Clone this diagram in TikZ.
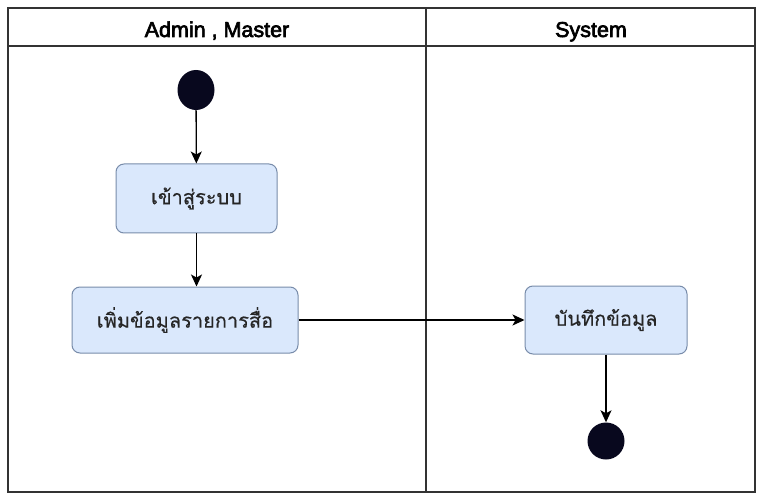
\documentclass[tikz,border=0pt]{standalone}
\usepackage{fontspec}
\setmainfont{Liberation Sans}
\newfontfamily\hdrfont[FakeBold=3]{Liberation Sans}
\newfontfamily\thaifont[Script=Thai,FakeBold=0.4]{Loma}
\usetikzlibrary{arrows.meta,shapes.geometric}
\definecolor{actfill}{RGB}{218,232,252}
\definecolor{actline}{RGB}{120,140,170}
\definecolor{dotfill}{RGB}{8,8,30}
\begin{document}
\begin{tikzpicture}[x=1pt,y=-1pt,
  act/.style={draw=actline, fill=actfill, rounded corners=8pt, line width=1pt, text=black!85, font=\thaifont\fontsize{20}{22}\selectfont},
  dot/.style={ellipse, fill=dotfill, minimum width=37pt, minimum height=37pt, inner sep=0pt},
  flow/.style={draw, line width=1.3pt, -{Stealth[length=12pt,width=11pt,inset=3pt]}},
  lane/.style={draw=black!80, line width=1.1pt},
  hdr/.style={font=\hdrfont\fontsize{21.5}{24}\selectfont, inner sep=0pt, anchor=base}]
\fill[white] (0,0) rectangle (762,494);
\useasboundingbox (0,0) rectangle (762,494);
\draw[lane] (8,8) rectangle (755,492);
\draw[lane] (8,46) -- (755,46);
\draw[lane] (426,8) -- (426,492);
\node[hdr] (h1) at (217,37) {Admin , Master};
\node[hdr] (h2) at (591,37) {System};
\node[dot, minimum height=40pt] (s) at (196,90) {};
\node[act, minimum width=161pt, minimum height=69pt] (a1) at (196.5,198.5) {เข้าสู่ระบบ};
\node[act, minimum width=226pt, minimum height=66pt] (a2) at (185,320) {เพิ่มข้อมูลรายการสื่อ};
\node[act, minimum width=162pt, minimum height=68pt] (a3) at (606,320) {บันทึกข้อมูล};
\node[dot] (e) at (606,441) {};
\draw[flow] (s) -- (a1);
\draw[flow] (a1.south) -- (a1.south |- a2.north);
\draw[flow] (a2) -- (a3);
\draw[flow] (a3) -- (e);
\end{tikzpicture}
\end{document}
